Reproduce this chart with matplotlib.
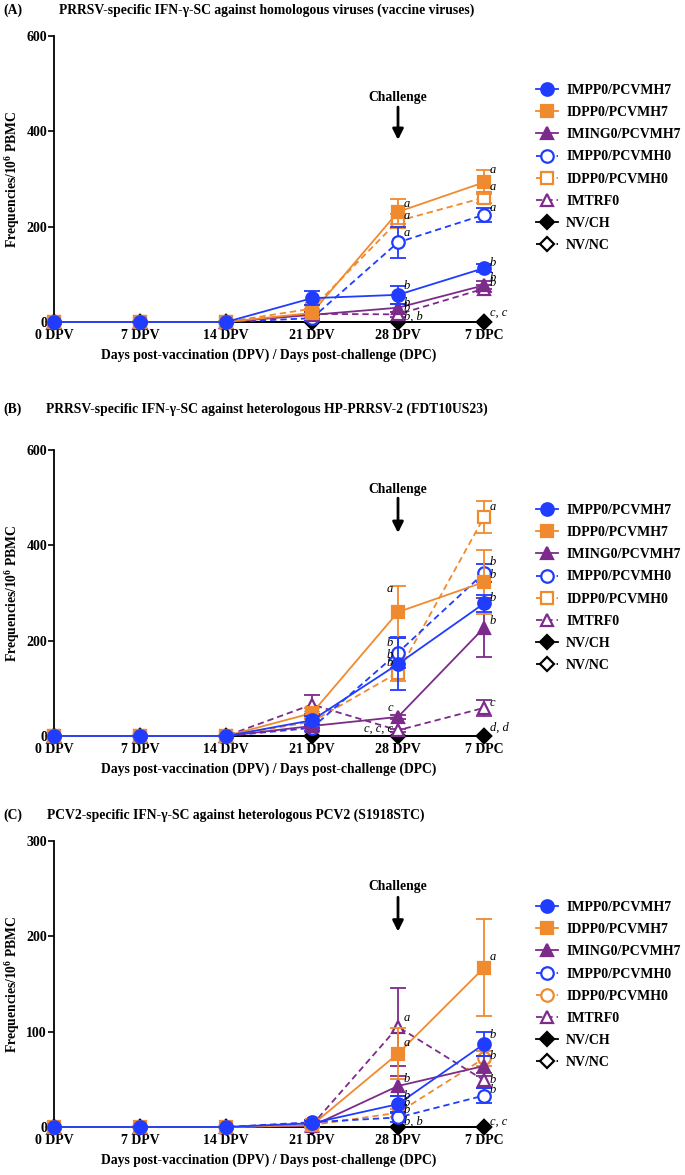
import matplotlib
matplotlib.use('Agg')
import matplotlib.pyplot as plt
import numpy as np

plt.rcParams['font.family'] = ['Liberation Serif', 'DejaVu Serif']
plt.rcParams['mathtext.fontset'] = 'custom'
plt.rcParams['mathtext.rm'] = 'Liberation Serif'
plt.rcParams['mathtext.bf'] = 'Liberation Serif:bold'
plt.rcParams['mathtext.it'] = 'Liberation Serif:italic'

# ---- data ----
days = ['0 DPV', '7 DPV', '14 DPV', '21 DPV', '28 DPV', '7 DPC']
groups = ['IMPP0/PCVMH7', 'IDPP0/PCVMH7', 'IMING0/PCVMH7', 'IMPP0/PCVMH0',
          'IDPP0/PCVMH0', 'IMTRF0', 'NV/CH', 'NV/NC']

# (A) homologous viruses
a_means = [[0, 0, 0, 50, 57, 113],
           [0, 0, 0, 19, 231, 293],
           [0, 0, 0, 15, 30, 77],
           [0, 0, 0, 8, 167, 225],
           [0, 0, 0, 28, 212, 261],
           [0, 0, 0, 17, 16, 70],
           [0, 0, 0, 0, 0, 0],
           [0, 0, 0, 0, 0, 0]]
a_errs = [[0, 0, 0, 15, 19, 8],
          [0, 0, 0, 8, 26, 25],
          [0, 0, 0, 5, 8, 8],
          [0, 0, 0, 5, 33, 15],
          [0, 0, 0, 8, 15, 12],
          [0, 0, 0, 4, 5, 8],
          [0, 0, 0, 0, 0, 0],
          [0, 0, 0, 0, 0, 0]]

# (B) HP-PRRSV-2 (FDT10US23)
b_means = [[0, 0, 0, 33, 151, 278],
           [0, 0, 0, 48, 260, 323],
           [0, 0, 0, 21, 40, 227],
           [0, 0, 0, 17, 175, 342],
           [0, 0, 0, 30, 133, 459],
           [0, 0, 0, 66, 12, 59],
           [0, 0, 0, 0, 0, 0],
           [0, 0, 0, 0, 0, 0]]
b_errs = [[0, 0, 0, 10, 55, 18],
          [0, 0, 0, 10, 54, 67],
          [0, 0, 0, 5, 5, 62],
          [0, 0, 0, 6, 32, 18],
          [0, 0, 0, 6, 18, 34],
          [0, 0, 0, 20, 3, 17],
          [0, 0, 0, 0, 0, 0],
          [0, 0, 0, 0, 0, 0]]

# (C) PCV2 (S1918STC)
c_means = [[0, 0, 0, 4, 24, 87],
           [0, 0, 0, 2, 77, 167],
           [0, 0, 0, 1, 43, 64],
           [0, 0, 0, 5, 10, 33],
           [0, 0, 0, 2, 15, 72],
           [0, 0, 0, 2, 105, 49],
           [0, 0, 0, 0, 0, 0],
           [0, 0, 0, 0, 0, 0]]
c_errs = [[0, 0, 0, 2, 8, 13],
          [0, 0, 0, 2, 27, 51],
          [0, 0, 0, 1, 10, 10],
          [0, 0, 0, 2, 5, 8],
          [0, 0, 0, 1, 4, 8],
          [0, 0, 0, 1, 41, 8],
          [0, 0, 0, 0, 0, 0],
          [0, 0, 0, 0, 0, 0]]

# significance letters: (time index, y value, text, side)
a_letters = [(4, 248, 'a', 'r'), (4, 222, 'a', 'r'), (4, 187, 'a', 'r'),
             (4, 76, 'b', 'r'), (4, 40, 'b', 'r'), (4, 29, 'b', 'r'), (4, 10, 'b, b', 'r'),
             (5, 319, 'a', 'r'), (5, 283, 'a', 'r'), (5, 239, 'a', 'r'),
             (5, 124, 'b', 'r'), (5, 92, 'b', 'r'), (5, 82, 'b', 'r'), (5, 19, 'c, c', 'r')]
b_letters = [(4, 308, 'a', 'l'), (4, 195, 'b', 'l'), (4, 170, 'b', 'l'), (4, 153, 'b', 'l'),
             (4, 59, 'c', 'l'), (4, 16, 'c, c, c', 'l'),
             (5, 480, 'a', 'r'), (5, 365, 'b', 'r'), (5, 338, 'b', 'r'), (5, 289, 'b', 'r'),
             (5, 241, 'b', 'r'), (5, 69, 'c', 'r'), (5, 17, 'd, d', 'r')]
c_letters = [(4, 114, 'a', 'r'), (4, 88, 'a', 'r'), (4, 50, 'b', 'r'), (4, 33, 'b', 'r'),
             (4, 25, 'b', 'r'), (4, 18, 'b', 'r'), (4, 6, 'b, b', 'r'),
             (5, 178, 'a', 'r'), (5, 97, 'b', 'r'), (5, 74, 'b', 'r'), (5, 49, 'b', 'r'),
             (5, 39, 'b', 'r'), (5, 5, 'c, c', 'r')]

# ---- style ----
blue = '#1f3cff'
orange = '#f08a2e'
purple = '#7d2b8b'
colors = [blue, orange, purple, blue, orange, purple, 'black', 'black']
filled = [True, True, True, False, False, False, True, False]
markers_ab = ['o', 's', '^', 'o', 's', '^', 'D', 'D']
markers_c = ['o', 's', '^', 'o', 'o', '^', 'D', 'D']
msizes = {'o': 9, 's': 8.5, '^': 9, 'D': 7.5}

W, H = 685, 1175


def fy(y):
    return 1 - y / H


def draw_panel(ax, means, errs, markers, ymax, ystep, letters, chall, leg_y):
    x = np.arange(len(days))
    handles = []
    for i, g in enumerate(groups):
        m = np.array(means[i], dtype=float)
        e = np.array(errs[i], dtype=float)
        z = 20 - 2 * i
        ls = '-' if filled[i] else '--'
        fc = colors[i] if filled[i] else 'white'
        ln, = ax.plot(x, m, color=colors[i], lw=1.3, ls=ls, marker=markers[i],
                      ms=msizes[markers[i]], mfc=fc, mec=colors[i], mew=1.6,
                      label=g, zorder=z, clip_on=False)
        if not filled[i]:
            ln.set_dashes((3.5, 2.2))
        sel = e > 0
        if sel.any():
            ax.errorbar(x[sel], m[sel], yerr=e[sel], fmt='none', ecolor=colors[i],
                        elinewidth=1.3, capsize=5.5, capthick=1.3, zorder=z - 1,
                        clip_on=False)
        handles.append(ln)

    for xi, val, txt, side in letters:
        if side == 'r':
            ax.text(xi + 0.07, val, txt, ha='left', va='center', style='italic',
                    fontsize=9, zorder=30)
        else:
            ax.text(xi - 0.06, val, txt, ha='right', va='center', style='italic',
                    fontsize=9, zorder=30)

    t_y, a_from, a_to = chall
    ax.text(4, t_y, 'Challenge', ha='center', va='center', fontsize=9.8,
            fontweight='bold')
    ax.annotate('', xy=(4, a_to), xytext=(4, a_from),
                arrowprops=dict(arrowstyle='-|>', lw=2, color='black',
                                mutation_scale=16, shrinkA=0, shrinkB=0))

    ax.set_xlim(0, 5)
    ax.set_ylim(0, ymax)
    ax.set_yticks(np.arange(0, ymax + 1, ystep))
    ax.set_xticks(x)
    ax.set_xticklabels(days, fontsize=10, fontweight='bold')
    for lab in ax.get_yticklabels():
        lab.set_fontsize(10)
        lab.set_fontweight('bold')
    ax.tick_params(axis='y', length=4, width=1.2, pad=1)
    ax.tick_params(axis='x', length=3, width=1.2, pad=2)
    for s in ['top', 'right']:
        ax.spines[s].set_visible(False)
    for s in ['left', 'bottom']:
        ax.spines[s].set_linewidth(1.3)

    ax.set_ylabel(r'Frequencies/10$^{\mathbf{6}}$ PBMC', fontsize=9.8, fontweight='bold')
    ax.yaxis.set_label_coords(-0.075, 0.5)
    ax.text(0.5, -0.115, 'Days post-vaccination (DPV) / Days post-challenge (DPC)',
            transform=ax.transAxes, ha='center', va='center', fontsize=9.8,
            fontweight='bold')

    ax.legend(handles=handles, loc='upper left', bbox_to_anchor=(1.12, leg_y),
              frameon=False, prop={'weight': 'bold', 'size': 10},
              handlelength=1.6, handletextpad=0.6, labelspacing=0.66,
              borderpad=0, borderaxespad=0)


fig = plt.figure(figsize=(6.85, 11.75), dpi=100)
left = 54 / W
width = 430 / W
height = 286 / H

ax_a = fig.add_axes([left, fy(322), width, height])
ax_b = fig.add_axes([left, fy(736), width, height])
ax_c = fig.add_axes([left, fy(1127), width, height])

draw_panel(ax_a, a_means, a_errs, markers_ab, 600, 200, a_letters, (472, 451, 382), 1 - 48 / 286)
draw_panel(ax_b, b_means, b_errs, markers_ab, 600, 200, b_letters, (518, 499, 426), 1 - 54 / 286)
draw_panel(ax_c, c_means, c_errs, markers_c, 300, 100, c_letters, (252, 241, 205), 1 - 60 / 286)

titles = [('(A)', 'PRRSV-specific IFN-γ-SC against homologous viruses (vaccine viruses)', 10, 59),
          ('(B)', 'PRRSV-specific IFN-γ-SC against heterologous HP-PRRSV-2 (FDT10US23)', 409, 46),
          ('(C)', 'PCV2-specific IFN-γ-SC against heterologous PCV2 (S1918STC)', 815, 47)]
for lab, txt, ty, tx in titles:
    fig.text(3 / W, fy(ty), lab, ha='left', va='center', fontsize=9.8, fontweight='bold')
    fig.text(tx / W, fy(ty), txt, ha='left', va='center', fontsize=9.8, fontweight='bold')

fig.savefig('out.png', dpi=100)
